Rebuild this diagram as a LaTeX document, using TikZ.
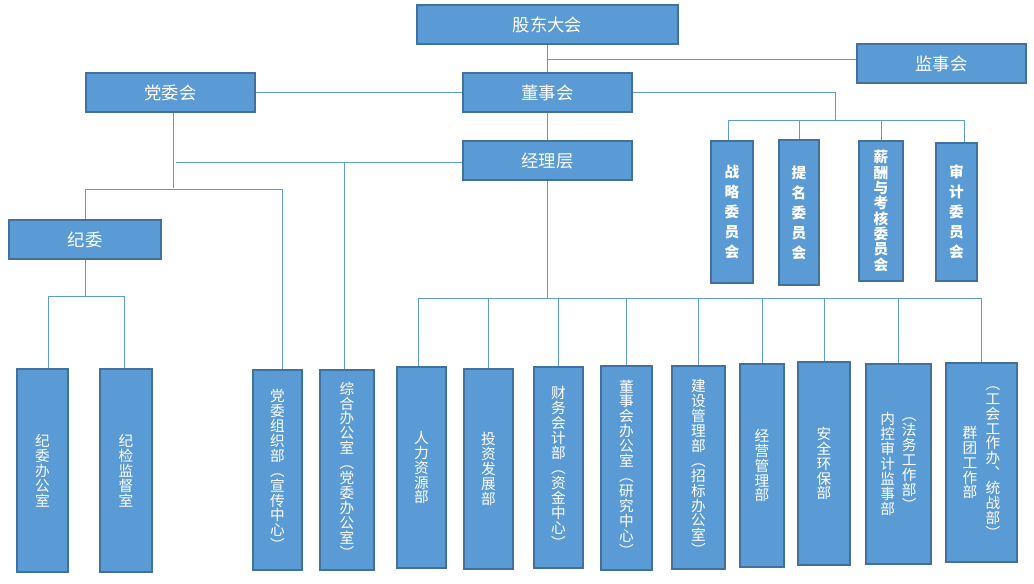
\documentclass[tikz,border=0pt]{standalone}
\usepackage{fontspec}
\newfontfamily\cjk{Noto Sans CJK SC}
\usetikzlibrary{calc}
\definecolor{boxfill}{HTML}{5B9BD5}
\definecolor{boxline}{HTML}{41719C}
\definecolor{connc}{HTML}{5B9BD5}
\newcommand\vcol[1]{\parbox[c]{1.2em}{\centering\lineskiplimit=-30pt\lineskip=0pt\relax #1\par}}
\newcommand\bx[7]{\node[box,#6,minimum width={(#4-#2)*0.75pt},minimum height={(#5-#3)*0.75pt}] (#1) at ({(#2+#4)/2},{(#3+#5)/2}) {#7};}
\tikzset{
  box/.style={draw=boxline, fill=boxfill, line width=1pt, text=white, inner sep=0pt},
  topbox/.style={font=\cjk\fontsize{13}{13}\selectfont},
  combox/.style={font=\cjk\bfseries\fontsize{11}{15}\selectfont},
  combox2/.style={font=\cjk\bfseries\fontsize{11}{11.5}\selectfont},
  depbox/.style={font=\cjk\fontsize{11}{11.2}\selectfont},
  conn/.style={draw=connc, line width=0.75pt}
}
\begin{document}
\begin{tikzpicture}[x=0.75pt,y=-0.75pt]
\useasboundingbox (0,0) rectangle (1034,583);
% top level
\bx{gd}{417}{5}{678}{44}{topbox}{股东大会}
\bx{jsh}{857}{44}{1026}{83}{topbox}{监事会}
\bx{dwh}{86}{73}{255}{112}{topbox}{党委会}
\bx{dsh}{463}{73}{632}{112}{topbox}{董事会}
\bx{jlc}{463}{141}{632}{180}{topbox}{经理层}
\bx{jw}{9}{220}{161}{259}{topbox}{纪委}
% committees
\bx{c1}{711}{141}{753}{283}{combox}{\vcol{战\\略\\委\\员\\会}}
\bx{c2}{779}{140}{819}{285}{combox}{\vcol{提\\名\\委\\员\\会}}
\bx{c3}{859}{141}{903}{281}{combox2}{\vcol{薪\\酬\\与\\考\\核\\委\\员\\会}}
\bx{c4}{936}{143}{977}{281}{combox}{\vcol{审\\计\\委\\员\\会}}
% departments
\bx{b1}{17}{369}{68}{572}{depbox}{\vcol{纪\\委\\办\\公\\室}}
\bx{b2}{100}{369}{152}{572}{depbox}{\vcol{纪\\检\\监\\督\\室}}
\bx{b3}{253}{370}{302}{570}{depbox}{\vcol{党\\委\\组\\织\\部\\︵\\宣\\传\\中\\心\\︶}}
\bx{b4}{320}{370}{374}{570}{depbox}{\vcol{综\\合\\办\\公\\室\\︵\\党\\委\\办\\公\\室\\︶}}
\bx{b5}{397}{367}{446}{568}{depbox}{\vcol{人\\力\\资\\源\\部}}
\bx{b6}{464}{369}{513}{569}{depbox}{\vcol{投\\资\\发\\展\\部}}
\bx{b7}{534}{367}{583}{568}{depbox}{\vcol{财\\务\\会\\计\\部\\︵\\资\\金\\中\\心\\︶}}
\bx{b8}{601}{366}{652}{570}{depbox}{\vcol{董\\事\\会\\办\\公\\室\\︵\\研\\究\\中\\心\\︶}}
\bx{b9}{672}{366}{725}{569}{depbox}{\vcol{建\\设\\管\\理\\部\\︵\\招\\标\\办\\公\\室\\︶}}
\bx{b10}{740}{364}{784}{567}{depbox}{\vcol{经\\营\\管\\理\\部}}
\bx{b11}{798}{362}{850}{565}{depbox}{\vcol{安\\全\\环\\保\\部}}
\bx{b12}{866}{364}{931}{564}{depbox}{\vcol{内\\控\\审\\计\\监\\事\\部}\hspace{3pt}\vcol{︵\\法\\务\\工\\作\\部\\︶}}
\bx{b13}{946}{363}{1017}{562}{depbox}{\vcol{群\\团\\工\\作\\部}\hspace{4pt}\vcol{︵\\工\\会\\工\\作\\办\\︑\\统\\战\\部\\︶}}
% connectors: top
\draw[conn] (gd.south) -- (dsh.north);
\coordinate (j1) at (547.5,59);
\draw[conn] (j1) -- (j1 -| jsh.west);
\draw[conn] (dwh.east) -- (dsh.west);
\draw[conn] (dsh.south) -- (jlc.north);
% committees
\coordinate (cb) at (835,120);
\coordinate (cl) at (728,120);
\coordinate (cr) at (964,120);
\draw[conn] (dsh.east) -| (cb);
\draw[conn] (cl) -- (cr);
\draw[conn] (cl) -- (cl |- c1.north);
\draw[conn] (c2.north |- cb) -- (c2.north);
\draw[conn] (c3.north |- cb) -- (c3.north);
\draw[conn] (cr) -- (cr |- c4.north);
% party
\coordinate (p1) at (173,188);
\draw[conn] (p1 |- dwh.south) -- (p1);
\coordinate (p2) at (176,162);
\draw[conn] (p2) -- (p2 -| jlc.west);
\coordinate (p3) at (344,162);
\draw[conn] (p3) -- (p3 |- b4.north);
\coordinate (p4) at (85,189);
\coordinate (p5) at (282,189);
\draw[conn] (p4) -- (p5);
\draw[conn] (p4) -- (p4 |- jw.north);
\draw[conn] (p5) -- (p5 |- b3.north);
\coordinate (k1) at (48,296);
\coordinate (k2) at (124,296);
\draw[conn] (k1) -- (k2);
\draw[conn] (jw.south) -- (jw.south |- k1);
\draw[conn] (k1) -- (k1 |- b1.north);
\draw[conn] (k2) -- (k2 |- b2.north);
% manager bus
\coordinate (m1) at (418,298);
\coordinate (m2) at (981,298);
\draw[conn] (m1) -- (m2);
\draw[conn] (jlc.south) -- (jlc.south |- m1);
\draw[conn] (m1) -- (m1 |- b5.north);
\foreach \n in {b6,b7,b8,b9,b10,b11,b12,b13} \draw[conn] (\n.north |- m1) -- (\n.north);
\end{tikzpicture}
\end{document}
